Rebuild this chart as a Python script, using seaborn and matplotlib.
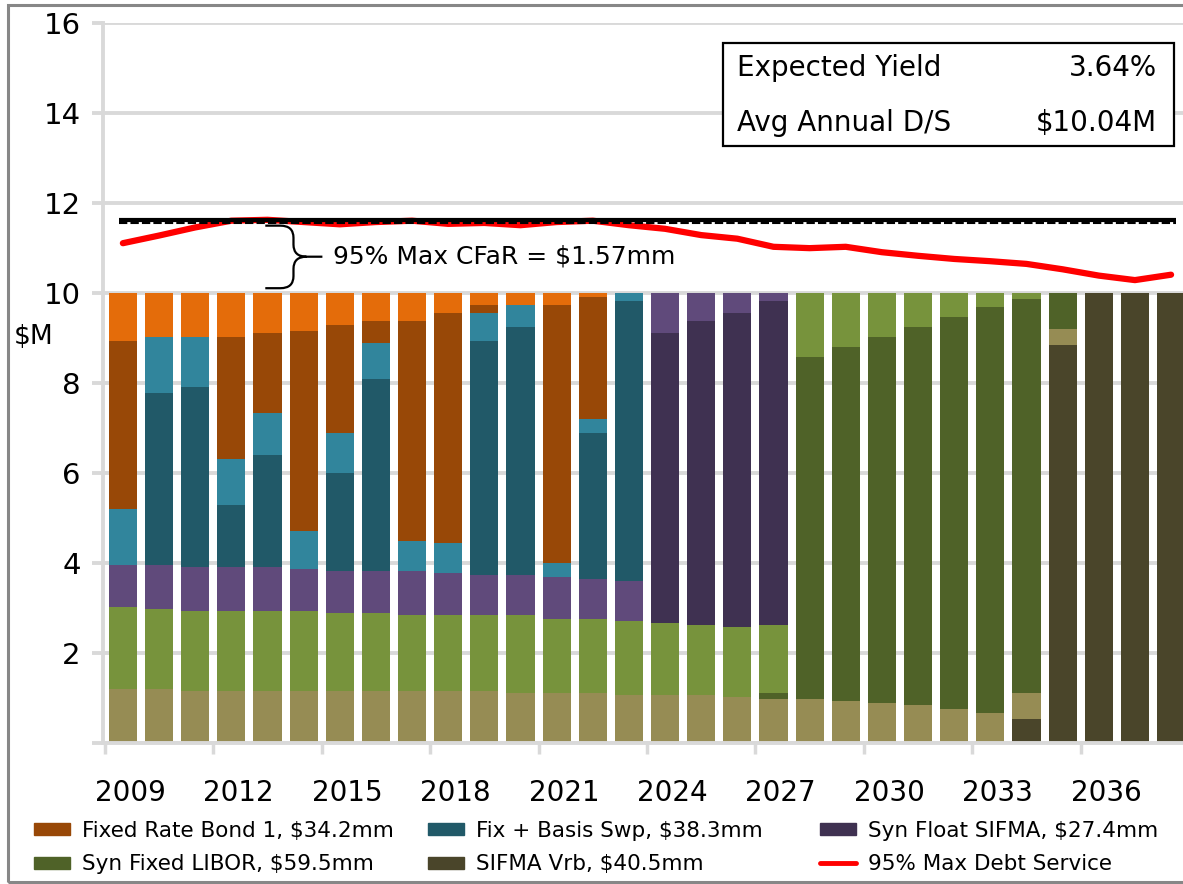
import numpy as np
import matplotlib
matplotlib.use("Agg")
import matplotlib.pyplot as plt
import seaborn as sns
from matplotlib.patches import Patch, Rectangle, PathPatch
from matplotlib.lines import Line2D
from matplotlib.path import Path

# ---- data ($M per year), stacked bottom -> top ----
years = list(range(2009, 2039))

sifma_prin = [0, 0, 0, 0, 0, 0, 0, 0, 0, 0, 0, 0, 0, 0, 0, 0, 0, 0, 0, 0, 0, 0, 0, 0, 0, 0.53, 8.84, 10.0, 10.0, 10.0]
sifma_int = [1.20, 1.20, 1.16, 1.16, 1.16, 1.16, 1.16, 1.16, 1.16, 1.16, 1.16, 1.11, 1.11, 1.11, 1.07, 1.07, 1.07, 1.02, 0.98, 0.98, 0.93, 0.89, 0.84, 0.76, 0.67, 0.58, 0.35, 0, 0, 0]
libor_prin = [0, 0, 0, 0, 0, 0, 0, 0, 0, 0, 0, 0, 0, 0, 0, 0, 0, 0, 0.13, 7.59, 7.86, 8.12, 8.40, 8.70, 9.01, 8.75, 0.81, 0, 0, 0]
libor_int = [1.81, 1.77, 1.77, 1.77, 1.77, 1.77, 1.72, 1.72, 1.68, 1.68, 1.68, 1.73, 1.64, 1.64, 1.63, 1.59, 1.54, 1.55, 1.50, 1.43, 1.21, 0.99, 0.76, 0.54, 0.32, 0.14, 0, 0, 0, 0]
float_prin = [0, 0, 0, 0, 0, 0, 0, 0, 0, 0, 0, 0, 0, 0, 0, 6.44, 6.76, 6.98, 7.20, 0, 0, 0, 0, 0, 0, 0, 0, 0, 0, 0]
float_int = [0.94, 0.98, 0.98, 0.98, 0.98, 0.94, 0.94, 0.94, 0.97, 0.93, 0.89, 0.89, 0.93, 0.89, 0.89, 0.90, 0.63, 0.45, 0.19, 0, 0, 0, 0, 0, 0, 0, 0, 0, 0, 0]
basis_prin = [0, 3.82, 3.99, 1.37, 2.48, 0, 2.17, 4.26, 0, 0, 5.20, 5.51, 0, 3.24, 6.22, 0, 0, 0, 0, 0, 0, 0, 0, 0, 0, 0, 0, 0, 0, 0]
basis_int = [1.24, 1.25, 1.12, 1.02, 0.94, 0.84, 0.89, 0.80, 0.67, 0.67, 0.62, 0.49, 0.31, 0.31, 0.19, 0, 0, 0, 0, 0, 0, 0, 0, 0, 0, 0, 0, 0, 0, 0]
fixed_prin = [3.74, 0, 0, 2.72, 1.77, 4.44, 2.40, 0.49, 4.89, 5.11, 0.18, 0, 5.74, 2.71, 0, 0, 0, 0, 0, 0, 0, 0, 0, 0, 0, 0, 0, 0, 0, 0]
fixed_int = [1.07, 0.98, 0.98, 0.98, 0.90, 0.85, 0.72, 0.63, 0.63, 0.45, 0.27, 0.27, 0.27, 0.10, 0, 0, 0, 0, 0, 0, 0, 0, 0, 0, 0, 0, 0, 0, 0, 0]

max_debt_service = [11.10, 11.27, 11.45, 11.60, 11.62, 11.57, 11.52, 11.57, 11.60, 11.53,
                    11.55, 11.50, 11.57, 11.60, 11.50, 11.42, 11.28, 11.20, 11.02, 10.99,
                    11.02, 10.90, 10.82, 10.75, 10.70, 10.64, 10.52, 10.38, 10.28, 10.40]
max_level = 11.61
cfar_text = "95% Max CFaR = $1.57mm"

legend_labels = ["Fixed Rate Bond 1, $34.2mm", "Syn Fixed LIBOR, $59.5mm",
                 "Fix + Basis Swp, $38.3mm", "SIFMA Vrb, $40.5mm",
                 "Syn Float SIFMA, $27.4mm", "95% Max Debt Service"]

#Colours (dark = legend colour, light = second part of each issue)
c_sifma = "#4A452A"
c_sifma_l = "#968C54"
c_libor = "#4F6228"
c_libor_l = "#77933C"
c_float = "#3F3151"
c_float_l = "#604A7B"
c_basis = "#215968"
c_basis_l = "#31859C"
c_fixed = "#984807"
c_fixed_l = "#E46C0A"
grey = "#D9D9D9"

sns.set_theme(style="white")
plt.rcParams['font.family'] = ['DejaVu Sans']
plt.rcParams['text.color'] = 'black'
plt.rcParams['xtick.labelcolor'] = 'black'
plt.rcParams['ytick.labelcolor'] = 'black'

W, H = 1183, 884
fig = plt.figure(figsize=(W / 100, H / 100), dpi=100)
ax = fig.add_axes([103 / W, 1 - 742.7 / H, 1080 / W, 720 / H])

layers = [sifma_prin, sifma_int, libor_prin, libor_int, float_prin, float_int,
          basis_prin, basis_int, fixed_prin, fixed_int]
colors = [c_sifma, c_sifma_l, c_libor, c_libor_l, c_float, c_float_l,
          c_basis, c_basis_l, c_fixed, c_fixed_l]
tops = np.cumsum(np.array(layers), axis=0)

#Draw cumulative totals from the top layer down so each one covers the last
for k in reversed(range(len(layers))):
    sns.barplot(x=years, y=tops[k], color=colors[k], width=0.78, saturation=1,
                errorbar=None, linewidth=0, ax=ax, zorder=2)

sns.lineplot(x=np.arange(len(years)), y=max_debt_service, color="red", lw=4.5,
             ax=ax, zorder=3, solid_capstyle="round")
ax.hlines(max_level, -0.1, 29.15, color="black", lw=3, zorder=4)
ax.hlines(max_level - 0.065, -0.1, 29.15, color="black", lw=1.5,
          linestyles=(0, (4, 1.5)), zorder=4)

#Curly brace for the CFaR
bx, by0, by1, bym = 4.72, 10.10, 11.49, 10.80
rx, ry = 0.36, 0.27
verts = [(bx - 0.78, by1), (bx - rx, by1), (bx, by1), (bx, by1 - ry), (bx, bym + ry),
         (bx, bym), (bx + rx, bym), (bx + 0.8, bym),
         (bx + rx, bym), (bx, bym), (bx, bym - ry), (bx, by0 + ry),
         (bx, by0), (bx - rx, by0), (bx - 0.78, by0)]
codes = [Path.MOVETO, Path.LINETO, Path.CURVE3, Path.CURVE3, Path.LINETO,
         Path.CURVE3, Path.CURVE3, Path.LINETO,
         Path.MOVETO, Path.CURVE3, Path.CURVE3, Path.LINETO,
         Path.CURVE3, Path.CURVE3, Path.LINETO]
ax.add_patch(PathPatch(Path(verts, codes), facecolor="none", edgecolor="black", lw=1.6, zorder=5))
ax.text(5.81, bym, cfar_text, fontsize=18, va="center", ha="left", zorder=5)

#Axes styling
ax.set_xlabel("")
ax.set_ylabel("")
ax.set_xlim(-0.55, 29.33)
ax.set_ylim(0, 16)
ax.set_yticks(np.arange(0, 17, 2))
ax.set_yticklabels([""] + [str(v) for v in range(2, 17, 2)])
ax.set_xticks(np.arange(-0.5, 29, 3))
ax.set_xticklabels([])
ax.set_xticks(np.arange(0, len(years), 3) + 0.2, minor=True)
ax.set_xticklabels([str(y) for y in years[::3]], minor=True)
ax.tick_params(axis="x", which="major", length=8, width=2.5, color=grey, direction="out", bottom=True)
ax.tick_params(axis="x", which="minor", length=0, pad=26, labelsize=20, bottom=True)
ax.tick_params(axis="y", length=8, width=2.8, color=grey, pad=8, labelsize=21, left=True)
ax.grid(axis="y", color=grey, lw=2.8)
ax.grid(axis="x", visible=False)
ax.set_axisbelow(True)
for side in ["top", "right"]:
    ax.spines[side].set_visible(False)
for side in ["left", "bottom"]:
    ax.spines[side].set_color(grey)
    ax.spines[side].set_linewidth(2.8)

fig.text(14 / W, 1 - 337 / H, "$M", fontsize=19, va="center", ha="left")

#Summary box
ax.add_patch(Rectangle((723 / W, 1 - 146 / H), 451 / W, 103 / H, transform=fig.transFigure,
                       facecolor="white", edgecolor="black", lw=1.6, clip_on=False, zorder=6))
for label, value, base in [("Expected Yield", "3.64%", 76), ("Avg Annual D/S", "$10.04M", 131)]:
    ax.text(737 / W, 1 - base / H, label, fontsize=20, va="baseline", ha="left",
            transform=fig.transFigure, zorder=7)
    ax.text(1157 / W, 1 - base / H, value, fontsize=20, va="baseline", ha="right",
            transform=fig.transFigure, zorder=7)

#Legend, one column at a time
handles = [Patch(color=c_fixed), Patch(color=c_libor), Patch(color=c_basis),
           Patch(color=c_sifma), Patch(color=c_float),
           Line2D([], [], color="red", lw=3.5, solid_capstyle="round")]
col_x = [34, 428, 820]
for i, x in enumerate(col_x):
    fig.legend(handles[2 * i:2 * i + 2], legend_labels[2 * i:2 * i + 2], loc="upper left",
               bbox_to_anchor=(x / W, 1 - 821 / H), frameon=False, fontsize=15.5,
               handlelength=1.65, handleheight=0.5, handletextpad=0.6,
               labelspacing=0.62, borderpad=0, borderaxespad=0)

#Grey frame around the chart
fig.add_artist(Rectangle((7.5 / W, 2 / H), 1.5, 1 - 7 / H, transform=fig.transFigure,
                         fill=False, edgecolor="#878787", lw=2.2))

fig.savefig("out.png", dpi=100)
